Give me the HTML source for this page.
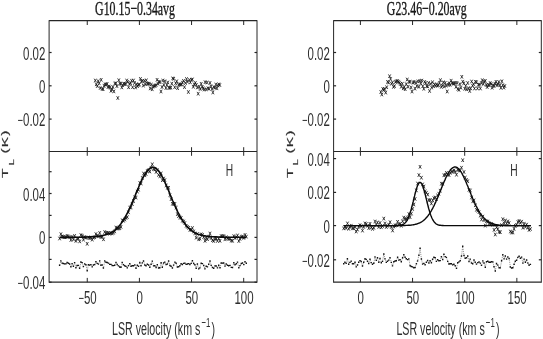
<!DOCTYPE html>
<html><head><meta charset="utf-8"><title>Spectra</title>
<style>
html,body{margin:0;padding:0;background:#fff;}
body{width:543px;height:339px;overflow:hidden;font-family:"Liberation Sans",sans-serif;}
svg{display:block;will-change:transform;}
</style></head><body>
<svg width="543" height="339" viewBox="0 0 543 339">
<rect width="543" height="339" fill="#fff"/>
<g stroke="#262626" fill="none">
<line x1="49.1" y1="20.7" x2="257.0" y2="20.7" stroke-width="1.2"/>
<line x1="49.1" y1="151.5" x2="257.0" y2="151.5" stroke-width="1.2"/>
<line x1="49.1" y1="282.2" x2="257.0" y2="282.2" stroke-width="1.2"/>
<line x1="49.1" y1="20.2" x2="49.1" y2="282.7" stroke-width="1.0"/>
<line x1="257.0" y1="20.2" x2="257.0" y2="282.7" stroke-width="1.0"/>
<line x1="87.25" y1="20.7" x2="87.25" y2="25.0" stroke-width="1.0"/>
<line x1="87.25" y1="147.2" x2="87.25" y2="155.8" stroke-width="1.0"/>
<line x1="87.25" y1="282.2" x2="87.25" y2="277.9" stroke-width="1.0"/>
<line x1="139.40" y1="20.7" x2="139.40" y2="25.0" stroke-width="1.0"/>
<line x1="139.40" y1="147.2" x2="139.40" y2="155.8" stroke-width="1.0"/>
<line x1="139.40" y1="282.2" x2="139.40" y2="277.9" stroke-width="1.0"/>
<line x1="191.55" y1="20.7" x2="191.55" y2="25.0" stroke-width="1.0"/>
<line x1="191.55" y1="147.2" x2="191.55" y2="155.8" stroke-width="1.0"/>
<line x1="191.55" y1="282.2" x2="191.55" y2="277.9" stroke-width="1.0"/>
<line x1="243.70" y1="20.7" x2="243.70" y2="25.0" stroke-width="1.0"/>
<line x1="243.70" y1="147.2" x2="243.70" y2="155.8" stroke-width="1.0"/>
<line x1="243.70" y1="282.2" x2="243.70" y2="277.9" stroke-width="1.0"/>
<line x1="49.1" y1="52.5" x2="51.6" y2="52.5" stroke-width="1.2"/>
<line x1="257.0" y1="52.5" x2="254.5" y2="52.5" stroke-width="1.2"/>
<line x1="49.1" y1="85.8" x2="51.6" y2="85.8" stroke-width="1.2"/>
<line x1="257.0" y1="85.8" x2="254.5" y2="85.8" stroke-width="1.2"/>
<line x1="49.1" y1="119.1" x2="51.6" y2="119.1" stroke-width="1.2"/>
<line x1="257.0" y1="119.1" x2="254.5" y2="119.1" stroke-width="1.2"/>
<line x1="49.1" y1="171.7" x2="51.6" y2="171.7" stroke-width="1.2"/>
<line x1="257.0" y1="171.7" x2="254.5" y2="171.7" stroke-width="1.2"/>
<line x1="49.1" y1="193.5" x2="51.6" y2="193.5" stroke-width="1.2"/>
<line x1="257.0" y1="193.5" x2="254.5" y2="193.5" stroke-width="1.2"/>
<line x1="49.1" y1="215.4" x2="51.6" y2="215.4" stroke-width="1.2"/>
<line x1="257.0" y1="215.4" x2="254.5" y2="215.4" stroke-width="1.2"/>
<line x1="49.1" y1="237.4" x2="51.6" y2="237.4" stroke-width="1.2"/>
<line x1="257.0" y1="237.4" x2="254.5" y2="237.4" stroke-width="1.2"/>
<line x1="49.1" y1="259.4" x2="51.6" y2="259.4" stroke-width="1.2"/>
<line x1="257.0" y1="259.4" x2="254.5" y2="259.4" stroke-width="1.2"/>
<line x1="49.1" y1="282.2" x2="51.6" y2="282.2" stroke-width="1.2"/>
<line x1="257.0" y1="282.2" x2="254.5" y2="282.2" stroke-width="1.2"/>
</g>
<text transform="translate(45.30,59.50) scale(0.64,1)" font-family="Liberation Sans" font-size="17.9" text-anchor="end" fill="#2e2e2e" >0.02</text>
<text transform="translate(45.30,92.80) scale(0.64,1)" font-family="Liberation Sans" font-size="17.9" text-anchor="end" fill="#2e2e2e" >0</text>
<text transform="translate(45.30,126.10) scale(0.64,1)" font-family="Liberation Sans" font-size="17.9" text-anchor="end" fill="#2e2e2e" ><tspan font-size="14.5" dy="-1.2">−</tspan><tspan dy="1.2">0.02</tspan></text>
<text transform="translate(45.30,200.50) scale(0.64,1)" font-family="Liberation Sans" font-size="17.9" text-anchor="end" fill="#2e2e2e" >0.04</text>
<text transform="translate(45.30,244.40) scale(0.64,1)" font-family="Liberation Sans" font-size="17.9" text-anchor="end" fill="#2e2e2e" >0</text>
<text transform="translate(45.30,289.20) scale(0.64,1)" font-family="Liberation Sans" font-size="17.9" text-anchor="end" fill="#2e2e2e" ><tspan font-size="14.5" dy="-1.2">−</tspan><tspan dy="1.2">0.04</tspan></text>
<text transform="translate(87.55,303.90) scale(0.64,1)" font-family="Liberation Sans" font-size="17.9" text-anchor="middle" fill="#2e2e2e" ><tspan font-size="14.5" dy="-1.2">−</tspan><tspan dy="1.2">50</tspan></text>
<text transform="translate(139.70,303.90) scale(0.64,1)" font-family="Liberation Sans" font-size="17.9" text-anchor="middle" fill="#2e2e2e" >0</text>
<text transform="translate(191.85,303.90) scale(0.64,1)" font-family="Liberation Sans" font-size="17.9" text-anchor="middle" fill="#2e2e2e" >50</text>
<text transform="translate(244.00,303.90) scale(0.64,1)" font-family="Liberation Sans" font-size="17.9" text-anchor="middle" fill="#2e2e2e" >100</text>
<text transform="translate(135.05,14.70) scale(0.6,1)" font-family="Liberation Serif" font-size="19.8" text-anchor="middle" fill="#161616" stroke="#161616" stroke-width="0.35">G10.15−0.34avg</text>
<text transform="translate(163.55,335.0) scale(0.58,1)" font-family="Liberation Sans" font-size="18.4" text-anchor="middle" fill="#2e2e2e">LSR velocity (km s<tspan dx="2" dy="-8" font-size="13.5">−1</tspan><tspan dx="2" dy="8">)</tspan></text>
<text transform="translate(8.10,178.00) scale(0.58,1) rotate(-90)" font-family="Liberation Sans" font-size="15.6" text-anchor="start" fill="#2e2e2e" stroke="#2e2e2e" stroke-width="0.3" letter-spacing="0">T</text>
<text transform="translate(13.70,165.60) scale(0.58,1) rotate(-90)" font-family="Liberation Sans" font-size="11.4" text-anchor="start" fill="#2e2e2e" stroke="#2e2e2e" stroke-width="0.3" letter-spacing="0">L</text>
<text transform="translate(8.10,153.60) scale(0.58,1) rotate(-90)" font-family="Liberation Sans" font-size="15.6" text-anchor="start" fill="#2e2e2e" stroke="#2e2e2e" stroke-width="0.3" letter-spacing="1.1">(K)</text>
<text transform="translate(229.50,175.80) scale(0.64,1)" font-family="Liberation Sans" font-size="16.0" text-anchor="middle" fill="#2e2e2e" >H</text>
<path d="M94.1 78.7L96.5 82.3M94.1 82.3L96.5 78.7M95.1 82.5L97.5 86.1M95.1 86.1L97.5 82.5M96.1 84.3L98.5 87.9M96.1 87.9L98.5 84.3M97.0 79.4L99.4 83.0M97.0 83.0L99.4 79.4M98.0 81.5L100.4 85.1M98.0 85.1L100.4 81.5M99.0 86.2L101.4 89.8M99.0 89.8L101.4 86.2M100.0 78.0L102.4 81.6M100.0 81.6L102.4 78.0M101.0 87.1L103.4 90.7M101.0 90.7L103.4 87.1M101.9 87.4L104.3 91.0M101.9 91.0L104.3 87.4M102.9 83.9L105.3 87.5M102.9 87.5L105.3 83.9M103.9 82.7L106.3 86.3M103.9 86.3L106.3 82.7M104.9 82.7L107.3 86.3M104.9 86.3L107.3 82.7M105.9 82.1L108.3 85.7M105.9 85.7L108.3 82.1M106.8 85.2L109.2 88.8M106.8 88.8L109.2 85.2M107.8 84.7L110.2 88.3M107.8 88.3L110.2 84.7M108.8 85.6L111.2 89.2M108.8 89.2L111.2 85.6M109.8 89.0L112.2 92.6M109.8 92.6L112.2 89.0M110.8 87.5L113.2 91.1M110.8 91.1L113.2 87.5M111.7 85.2L114.1 88.8M111.7 88.8L114.1 85.2M112.7 89.6L115.1 93.2M112.7 93.2L115.1 89.6M113.7 81.7L116.1 85.3M113.7 85.3L116.1 81.7M114.7 81.6L117.1 85.2M114.7 85.2L117.1 81.6M115.7 84.3L118.1 87.9M115.7 87.9L118.1 84.3M116.6 96.2L119.0 99.8M116.6 99.8L119.0 96.2M117.6 78.4L120.0 82.0M117.6 82.0L120.0 78.4M118.6 81.8L121.0 85.4M118.6 85.4L121.0 81.8M119.6 81.9L122.0 85.5M119.6 85.5L122.0 81.9M120.6 85.6L123.0 89.2M120.6 89.2L123.0 85.6M121.5 83.4L123.9 87.0M121.5 87.0L123.9 83.4M122.5 81.9L124.9 85.5M122.5 85.5L124.9 81.9M123.5 82.3L125.9 85.9M123.5 85.9L125.9 82.3M124.5 82.1L126.9 85.7M124.5 85.7L126.9 82.1M125.5 78.7L127.9 82.3M125.5 82.3L127.9 78.7M126.5 80.1L128.9 83.7M126.5 83.7L128.9 80.1M127.4 85.5L129.8 89.1M127.4 89.1L129.8 85.5M128.4 82.1L130.8 85.7M128.4 85.7L130.8 82.1M129.4 81.3L131.8 84.9M129.4 84.9L131.8 81.3M130.4 78.9L132.8 82.5M130.4 82.5L132.8 78.9M131.4 85.4L133.8 89.0M131.4 89.0L133.8 85.4M132.3 78.7L134.7 82.3M132.3 82.3L134.7 78.7M133.3 81.2L135.7 84.8M133.3 84.8L135.7 81.2M134.3 85.7L136.7 89.3M134.3 89.3L136.7 85.7M135.3 82.4L137.7 86.0M135.3 86.0L137.7 82.4M136.3 84.4L138.7 88.0M136.3 88.0L138.7 84.4M137.2 83.0L139.6 86.6M137.2 86.6L139.6 83.0M138.2 82.8L140.6 86.4M138.2 86.4L140.6 82.8M139.2 77.1L141.6 80.7M139.2 80.7L141.6 77.1M140.2 79.8L142.6 83.4M140.2 83.4L142.6 79.8M141.2 79.0L143.6 82.6M141.2 82.6L143.6 79.0M142.1 83.8L144.5 87.4M142.1 87.4L144.5 83.8M143.1 79.1L145.5 82.7M143.1 82.7L145.5 79.1M144.1 82.4L146.5 86.0M144.1 86.0L146.5 82.4M145.1 78.5L147.5 82.1M145.1 82.1L147.5 78.5M146.1 81.8L148.5 85.4M146.1 85.4L148.5 81.8M147.0 82.0L149.4 85.6M147.0 85.6L149.4 82.0M148.0 81.9L150.4 85.5M148.0 85.5L150.4 81.9M149.0 86.6L151.4 90.2M149.0 90.2L151.4 86.6M150.0 82.7L152.4 86.3M150.0 86.3L152.4 82.7M151.0 87.5L153.4 91.1M151.0 91.1L153.4 87.5M151.9 84.7L154.3 88.3M151.9 88.3L154.3 84.7M152.9 84.2L155.3 87.8M152.9 87.8L155.3 84.2M153.9 83.9L156.3 87.5M153.9 87.5L156.3 83.9M154.9 83.3L157.3 86.9M154.9 86.9L157.3 83.3M155.9 78.0L158.3 81.6M155.9 81.6L158.3 78.0M156.8 81.9L159.2 85.5M156.8 85.5L159.2 81.9M157.8 80.0L160.2 83.6M157.8 83.6L160.2 80.0M158.8 80.3L161.2 83.9M158.8 83.9L161.2 80.3M159.8 89.7L162.2 93.3M159.8 93.3L162.2 89.7M160.8 85.2L163.2 88.8M160.8 88.8L163.2 85.2M161.7 78.7L164.1 82.3M161.7 82.3L164.1 78.7M162.7 83.1L165.1 86.7M162.7 86.7L165.1 83.1M163.7 79.5L166.1 83.1M163.7 83.1L166.1 79.5M164.7 86.3L167.1 89.9M164.7 89.9L167.1 86.3M165.7 83.1L168.1 86.7M165.7 86.7L168.1 83.1M166.6 80.6L169.0 84.2M166.6 84.2L169.0 80.6M167.6 85.8L170.0 89.4M167.6 89.4L170.0 85.8M168.6 86.1L171.0 89.7M168.6 89.7L171.0 86.1M169.6 85.7L172.0 89.3M169.6 89.3L172.0 85.7M170.6 81.8L173.0 85.4M170.6 85.4L173.0 81.8M171.5 76.6L173.9 80.2M171.5 80.2L173.9 76.6M172.5 77.0L174.9 80.6M172.5 80.6L174.9 77.0M173.5 85.4L175.9 89.0M173.5 89.0L175.9 85.4M174.5 81.4L176.9 85.0M174.5 85.0L176.9 81.4M175.5 79.5L177.9 83.1M175.5 83.1L177.9 79.5M176.4 86.4L178.8 90.0M176.4 90.0L178.8 86.4M177.4 83.1L179.8 86.7M177.4 86.7L179.8 83.1M178.4 82.6L180.8 86.2M178.4 86.2L180.8 82.6M179.4 82.7L181.8 86.3M179.4 86.3L181.8 82.7M180.4 82.6L182.8 86.2M180.4 86.2L182.8 82.6M181.3 80.8L183.7 84.4M181.3 84.4L183.7 80.8M182.3 79.1L184.7 82.7M182.3 82.7L184.7 79.1M183.3 85.3L185.7 88.9M183.3 88.9L185.7 85.3M184.3 81.2L186.7 84.8M184.3 84.8L186.7 81.2M185.3 77.2L187.7 80.8M185.3 80.8L187.7 77.2M186.2 80.0L188.6 83.6M186.2 83.6L188.6 80.0M187.2 90.2L189.6 93.8M187.2 93.8L189.6 90.2M188.2 78.2L190.6 81.8M188.2 81.8L190.6 78.2M189.2 80.6L191.6 84.2M189.2 84.2L191.6 80.6M190.2 78.0L192.6 81.6M190.2 81.6L192.6 78.0M191.2 77.6L193.6 81.2M191.2 81.2L193.6 77.6M192.1 85.0L194.5 88.6M192.1 88.6L194.5 85.0M193.1 82.6L195.5 86.2M193.1 86.2L195.5 82.6M194.1 81.1L196.5 84.7M194.1 84.7L196.5 81.1M195.1 83.0L197.5 86.6M195.1 86.6L197.5 83.0M196.1 85.7L198.5 89.3M196.1 89.3L198.5 85.7M197.0 91.9L199.4 95.5M197.0 95.5L199.4 91.9M198.0 84.9L200.4 88.5M198.0 88.5L200.4 84.9M199.0 87.2L201.4 90.8M199.0 90.8L201.4 87.2M200.0 82.0L202.4 85.6M200.0 85.6L202.4 82.0M201.0 85.0L203.4 88.6M201.0 88.6L203.4 85.0M201.9 86.4L204.3 90.0M201.9 90.0L204.3 86.4M202.9 87.7L205.3 91.3M202.9 91.3L205.3 87.7M203.9 80.4L206.3 84.0M203.9 84.0L206.3 80.4M204.9 87.6L207.3 91.2M204.9 91.2L207.3 87.6M205.9 80.7L208.3 84.3M205.9 84.3L208.3 80.7M206.8 86.4L209.2 90.0M206.8 90.0L209.2 86.4M207.8 87.0L210.2 90.6M207.8 90.6L210.2 87.0M208.8 81.1L211.2 84.7M208.8 84.7L211.2 81.1M209.8 84.6L212.2 88.2M209.8 88.2L212.2 84.6M210.8 87.2L213.2 90.8M210.8 90.8L213.2 87.2M211.7 90.7L214.1 94.3M211.7 94.3L214.1 90.7M212.7 85.3L215.1 88.9M212.7 88.9L215.1 85.3M213.7 85.9L216.1 89.5M213.7 89.5L216.1 85.9M214.7 82.7L217.1 86.3M214.7 86.3L217.1 82.7M215.7 86.5L218.1 90.1M215.7 90.1L218.1 86.5M216.6 83.7L219.0 87.3M216.6 87.3L219.0 83.7M217.6 82.6L220.0 86.2M217.6 86.2L220.0 82.6M218.6 83.2L221.0 86.8M218.6 86.8L221.0 83.2" stroke="#141414" stroke-width="0.8" fill="none"/>
<path d="M58.4 236.7L60.8 240.3M58.4 240.3L60.8 236.7M59.7 232.4L62.1 236.0M59.7 236.0L62.1 232.4M60.9 234.6L63.3 238.2M60.9 238.2L63.3 234.6M62.2 235.0L64.6 238.6M62.2 238.6L64.6 235.0M63.4 235.4L65.8 239.0M63.4 239.0L65.8 235.4M64.7 235.4L67.1 239.0M64.7 239.0L67.1 235.4M65.9 234.0L68.3 237.6M65.9 237.6L68.3 234.0M67.2 234.7L69.6 238.3M67.2 238.3L69.6 234.7M68.4 235.5L70.8 239.1M68.4 239.1L70.8 235.5M69.7 238.2L72.1 241.8M69.7 241.8L72.1 238.2M70.9 235.1L73.3 238.7M70.9 238.7L73.3 235.1M72.2 237.6L74.6 241.2M72.2 241.2L74.6 237.6M73.4 234.1L75.8 237.7M73.4 237.7L75.8 234.1M74.7 239.1L77.1 242.7M74.7 242.7L77.1 239.1M76.0 236.9L78.4 240.5M76.0 240.5L78.4 236.9M77.2 236.8L79.6 240.4M77.2 240.4L79.6 236.8M78.5 239.6L80.9 243.2M78.5 243.2L80.9 239.6M79.7 233.3L82.1 236.9M79.7 236.9L82.1 233.3M81.0 233.9L83.4 237.5M81.0 237.5L83.4 233.9M82.2 237.9L84.6 241.5M82.2 241.5L84.6 237.9M83.5 235.2L85.9 238.8M83.5 238.8L85.9 235.2M84.7 235.9L87.1 239.5M84.7 239.5L87.1 235.9M86.0 242.0L88.4 245.6M86.0 245.6L88.4 242.0M87.2 235.8L89.6 239.4M87.2 239.4L89.6 235.8M88.5 236.2L90.9 239.8M88.5 239.8L90.9 236.2M89.7 235.7L92.1 239.3M89.7 239.3L92.1 235.7M91.0 237.8L93.4 241.4M91.0 241.4L93.4 237.8M92.2 235.9L94.6 239.5M92.2 239.5L94.6 235.9M93.5 235.4L95.9 239.0M93.5 239.0L95.9 235.4M94.7 232.3L97.1 235.9M94.7 235.9L97.1 232.3M96.0 233.9L98.4 237.5M96.0 237.5L98.4 233.9M97.3 234.5L99.7 238.1M97.3 238.1L99.7 234.5M98.5 231.1L100.9 234.7M98.5 234.7L100.9 231.1M99.8 235.3L102.2 238.9M99.8 238.9L102.2 235.3M101.0 234.7L103.4 238.3M101.0 238.3L103.4 234.7M102.3 237.5L104.7 241.1M102.3 241.1L104.7 237.5M103.5 230.2L105.9 233.8M103.5 233.8L105.9 230.2M104.8 231.2L107.2 234.8M104.8 234.8L107.2 231.2M106.0 231.0L108.4 234.6M106.0 234.6L108.4 231.0M107.3 231.1L109.7 234.7M107.3 234.7L109.7 231.1M108.5 231.9L110.9 235.5M108.5 235.5L110.9 231.9M109.8 231.2L112.2 234.8M109.8 234.8L112.2 231.2M111.0 231.6L113.4 235.2M111.0 235.2L113.4 231.6M112.3 230.9L114.7 234.5M112.3 234.5L114.7 230.9M113.5 229.6L115.9 233.2M113.5 233.2L115.9 229.6M114.8 225.7L117.2 229.3M114.8 229.3L117.2 225.7M116.0 226.7L118.4 230.3M116.0 230.3L118.4 226.7M117.3 226.7L119.7 230.3M117.3 230.3L119.7 226.7M118.6 226.4L121.0 230.0M118.6 230.0L121.0 226.4M119.8 225.0L122.2 228.6M119.8 228.6L122.2 225.0M121.1 218.5L123.5 222.1M121.1 222.1L123.5 218.5M122.3 218.9L124.7 222.5M122.3 222.5L124.7 218.9M123.6 217.7L126.0 221.3M123.6 221.3L126.0 217.7M124.8 216.2L127.2 219.8M124.8 219.8L127.2 216.2M126.1 215.3L128.5 218.9M126.1 218.9L128.5 215.3M127.3 210.5L129.7 214.1M127.3 214.1L129.7 210.5M128.6 205.8L131.0 209.4M128.6 209.4L131.0 205.8M129.8 205.6L132.2 209.2M129.8 209.2L132.2 205.6M131.1 202.3L133.5 205.9M131.1 205.9L133.5 202.3M132.3 199.2L134.7 202.8M132.3 202.8L134.7 199.2M133.6 195.4L136.0 199.0M133.6 199.0L136.0 195.4M134.8 195.8L137.2 199.4M134.8 199.4L137.2 195.8M136.1 189.8L138.5 193.4M136.1 193.4L138.5 189.8M137.3 187.9L139.7 191.5M137.3 191.5L139.7 187.9M138.6 181.1L141.0 184.7M138.6 184.7L141.0 181.1M139.9 181.7L142.3 185.3M139.9 185.3L142.3 181.7M141.1 176.1L143.5 179.7M141.1 179.7L143.5 176.1M142.4 171.7L144.8 175.3M142.4 175.3L144.8 171.7M143.6 173.5L146.0 177.1M143.6 177.1L146.0 173.5M144.9 172.3L147.3 175.9M144.9 175.9L147.3 172.3M146.1 169.2L148.5 172.8M146.1 172.8L148.5 169.2M147.4 168.5L149.8 172.1M147.4 172.1L149.8 168.5M148.6 169.7L151.0 173.3M148.6 173.3L151.0 169.7M149.9 166.0L152.3 169.6M149.9 169.6L152.3 166.0M151.1 162.5L153.5 166.1M151.1 166.1L153.5 162.5M152.4 167.3L154.8 170.9M152.4 170.9L154.8 167.3M153.6 167.6L156.0 171.2M153.6 171.2L156.0 167.6M154.9 170.1L157.3 173.7M154.9 173.7L157.3 170.1M156.1 168.4L158.5 172.0M156.1 172.0L158.5 168.4M157.4 173.1L159.8 176.7M157.4 176.7L159.8 173.1M158.7 174.6L161.1 178.2M158.7 178.2L161.1 174.6M159.9 171.6L162.3 175.2M159.9 175.2L162.3 171.6M161.2 178.4L163.6 182.0M161.2 182.0L163.6 178.4M162.4 176.7L164.8 180.3M162.4 180.3L164.8 176.7M163.7 178.3L166.1 181.9M163.7 181.9L166.1 178.3M164.9 183.7L167.3 187.3M164.9 187.3L167.3 183.7M166.2 186.0L168.6 189.6M166.2 189.6L168.6 186.0M167.4 186.0L169.8 189.6M167.4 189.6L169.8 186.0M168.7 193.5L171.1 197.1M168.7 197.1L171.1 193.5M169.9 197.4L172.3 201.0M169.9 201.0L172.3 197.4M171.2 202.0L173.6 205.6M171.2 205.6L173.6 202.0M172.4 202.1L174.8 205.7M172.4 205.7L174.8 202.1M173.7 202.0L176.1 205.6M173.7 205.6L176.1 202.0M174.9 205.8L177.3 209.4M174.9 209.4L177.3 205.8M176.2 212.3L178.6 215.9M176.2 215.9L178.6 212.3M177.4 214.4L179.8 218.0M177.4 218.0L179.8 214.4M178.7 215.8L181.1 219.4M178.7 219.4L181.1 215.8M180.0 216.1L182.4 219.7M180.0 219.7L182.4 216.1M181.2 218.9L183.6 222.5M181.2 222.5L183.6 218.9M182.5 219.7L184.9 223.3M182.5 223.3L184.9 219.7M183.7 221.2L186.1 224.8M183.7 224.8L186.1 221.2M185.0 224.0L187.4 227.6M185.0 227.6L187.4 224.0M186.2 225.0L188.6 228.6M186.2 228.6L188.6 225.0M187.5 226.0L189.9 229.6M187.5 229.6L189.9 226.0M188.7 228.0L191.1 231.6M188.7 231.6L191.1 228.0M190.0 228.0L192.4 231.6M190.0 231.6L192.4 228.0M191.2 226.2L193.6 229.8M191.2 229.8L193.6 226.2M192.5 229.7L194.9 233.3M192.5 233.3L194.9 229.7M193.7 231.6L196.1 235.2M193.7 235.2L196.1 231.6M195.0 235.9L197.4 239.5M195.0 239.5L197.4 235.9M196.2 232.1L198.6 235.7M196.2 235.7L198.6 232.1M197.5 237.5L199.9 241.1M197.5 241.1L199.9 237.5M198.7 236.8L201.1 240.4M198.7 240.4L201.1 236.8M200.0 232.5L202.4 236.1M200.0 236.1L202.4 232.5M201.3 233.2L203.7 236.8M201.3 236.8L203.7 233.2M202.5 235.4L204.9 239.0M202.5 239.0L204.9 235.4M203.8 239.0L206.2 242.6M203.8 242.6L206.2 239.0M205.0 236.5L207.4 240.1M205.0 240.1L207.4 236.5M206.3 237.4L208.7 241.0M206.3 241.0L208.7 237.4M207.5 234.9L209.9 238.5M207.5 238.5L209.9 234.9M208.8 231.7L211.2 235.3M208.8 235.3L211.2 231.7M210.0 236.2L212.4 239.8M210.0 239.8L212.4 236.2M211.3 238.4L213.7 242.0M211.3 242.0L213.7 238.4M212.5 239.2L214.9 242.8M212.5 242.8L214.9 239.2M213.8 236.9L216.2 240.5M213.8 240.5L216.2 236.9M215.0 237.1L217.4 240.7M215.0 240.7L217.4 237.1M216.3 239.1L218.7 242.7M216.3 242.7L218.7 239.1M217.5 236.4L219.9 240.0M217.5 240.0L219.9 236.4M218.8 239.0L221.2 242.6M218.8 242.6L221.2 239.0M220.0 234.3L222.4 237.9M220.0 237.9L222.4 234.3M221.3 234.4L223.7 238.0M221.3 238.0L223.7 234.4M222.6 234.3L225.0 237.9M222.6 237.9L225.0 234.3M223.8 237.5L226.2 241.1M223.8 241.1L226.2 237.5M225.1 235.4L227.5 239.0M225.1 239.0L227.5 235.4M226.3 236.6L228.7 240.2M226.3 240.2L228.7 236.6M227.6 237.1L230.0 240.7M227.6 240.7L230.0 237.1M228.8 236.9L231.2 240.5M228.8 240.5L231.2 236.9M230.1 238.8L232.5 242.4M230.1 242.4L232.5 238.8M231.3 239.0L233.7 242.6M231.3 242.6L233.7 239.0M232.6 234.3L235.0 237.9M232.6 237.9L235.0 234.3M233.8 236.2L236.2 239.8M233.8 239.8L236.2 236.2M235.1 235.3L237.5 238.9M235.1 238.9L237.5 235.3M236.3 233.6L238.7 237.2M236.3 237.2L238.7 233.6M237.6 239.2L240.0 242.8M237.6 242.8L240.0 239.2M238.8 237.1L241.2 240.7M238.8 240.7L241.2 237.1M240.1 235.1L242.5 238.7M240.1 238.7L242.5 235.1M241.3 234.6L243.7 238.2M241.3 238.2L243.7 234.6M242.6 236.1L245.0 239.7M242.6 239.7L245.0 236.1M243.9 233.1L246.3 236.7M243.9 236.7L246.3 233.1M245.1 234.8L247.5 238.4M245.1 238.4L247.5 234.8" stroke="#141414" stroke-width="0.8" fill="none"/>
<path d="M59.6 237.4L60.2 237.4L60.9 237.4L61.5 237.4L62.1 237.4L62.7 237.4L63.4 237.4L64.0 237.4L64.6 237.4L65.2 237.4L65.9 237.3L66.5 237.3L67.1 237.3L67.7 237.3L68.4 237.3L69.0 237.3L69.6 237.3L70.2 237.3L70.8 237.3L71.5 237.3L72.1 237.3L72.7 237.3L73.3 237.3L74.0 237.3L74.6 237.3L75.2 237.3L75.8 237.3L76.5 237.3L77.1 237.2L77.7 237.2L78.3 237.2L79.0 237.2L79.6 237.2L80.2 237.2L80.8 237.2L81.5 237.2L82.1 237.2L82.7 237.1L83.3 237.1L84.0 237.1L84.6 237.1L85.2 237.1L85.8 237.1L86.5 237.0L87.1 237.0L87.7 237.0L88.3 237.0L89.0 236.9L89.6 236.9L90.2 236.9L90.8 236.9L91.5 236.8L92.1 236.8L92.7 236.7L93.3 236.7L94.0 236.7L94.6 236.6L95.2 236.6L95.8 236.5L96.5 236.5L97.1 236.4L97.7 236.3L98.3 236.2L98.9 236.2L99.6 236.1L100.2 236.0L100.8 235.9L101.4 235.8L102.1 235.7L102.7 235.5L103.3 235.4L103.9 235.3L104.6 235.1L105.2 234.9L105.8 234.8L106.4 234.6L107.1 234.4L107.7 234.1L108.3 233.9L108.9 233.6L109.6 233.4L110.2 233.1L110.8 232.7L111.4 232.4L112.1 232.0L112.7 231.7L113.3 231.2L113.9 230.8L114.6 230.3L115.2 229.8L115.8 229.3L116.4 228.8L117.1 228.2L117.7 227.5L118.3 226.9L118.9 226.2L119.6 225.4L120.2 224.7L120.8 223.9L121.4 223.0L122.1 222.1L122.7 221.2L123.3 220.2L123.9 219.2L124.5 218.2L125.2 217.1L125.8 216.0L126.4 214.8L127.0 213.6L127.7 212.4L128.3 211.1L128.9 209.8L129.5 208.5L130.2 207.1L130.8 205.8L131.4 204.3L132.0 202.9L132.7 201.4L133.3 200.0L133.9 198.5L134.5 197.0L135.2 195.5L135.8 193.9L136.4 192.4L137.0 190.9L137.7 189.4L138.3 188.0L138.9 186.5L139.5 185.0L140.2 183.6L140.8 182.2L141.4 180.9L142.0 179.6L142.7 178.3L143.3 177.1L143.9 175.9L144.5 174.8L145.2 173.8L145.8 172.8L146.4 171.9L147.0 171.1L147.7 170.3L148.3 169.6L148.9 169.0L149.5 168.5L150.1 168.1L150.8 167.7L151.4 167.5L152.0 167.3L152.6 167.2L153.3 167.2L153.9 167.3L154.5 167.5L155.1 167.8L155.8 168.2L156.4 168.7L157.0 169.2L157.6 169.8L158.3 170.5L158.9 171.3L159.5 172.2L160.1 173.1L160.8 174.1L161.4 175.2L162.0 176.3L162.6 177.5L163.3 178.7L163.9 180.0L164.5 181.3L165.1 182.7L165.8 184.1L166.4 185.5L167.0 187.0L167.6 188.4L168.3 189.9L168.9 191.4L169.5 192.9L170.1 194.5L170.8 196.0L171.4 197.5L172.0 199.0L172.6 200.5L173.3 201.9L173.9 203.4L174.5 204.8L175.1 206.2L175.7 207.6L176.4 209.0L177.0 210.3L177.6 211.6L178.2 212.8L178.9 214.0L179.5 215.2L180.1 216.4L180.7 217.5L181.4 218.6L182.0 219.6L182.6 220.6L183.2 221.5L183.9 222.4L184.5 223.3L185.1 224.1L185.7 224.9L186.4 225.7L187.0 226.4L187.6 227.1L188.2 227.7L188.9 228.4L189.5 228.9L190.1 229.5L190.7 230.0L191.4 230.5L192.0 231.0L192.6 231.4L193.2 231.8L193.9 232.2L194.5 232.5L195.1 232.9L195.7 233.2L196.4 233.5L197.0 233.7L197.6 234.0L198.2 234.2L198.9 234.4L199.5 234.6L200.1 234.8L200.7 235.0L201.4 235.2L202.0 235.3L202.6 235.5L203.2 235.6L203.8 235.7L204.5 235.8L205.1 235.9L205.7 236.0L206.3 236.1L207.0 236.2L207.6 236.3L208.2 236.3L208.8 236.4L209.5 236.5L210.1 236.5L210.7 236.6L211.3 236.6L212.0 236.7L212.6 236.7L213.2 236.8L213.8 236.8L214.5 236.8L215.1 236.9L215.7 236.9L216.3 236.9L217.0 237.0L217.6 237.0L218.2 237.0L218.8 237.0L219.5 237.0L220.1 237.1L220.7 237.1L221.3 237.1L222.0 237.1L222.6 237.1L223.2 237.1L223.8 237.2L224.5 237.2L225.1 237.2L225.7 237.2L226.3 237.2L227.0 237.2L227.6 237.2L228.2 237.2L228.8 237.2L229.4 237.3L230.1 237.3L230.7 237.3L231.3 237.3L231.9 237.3L232.6 237.3L233.2 237.3L233.8 237.3L234.4 237.3L235.1 237.3L235.7 237.3L236.3 237.3L236.9 237.3L237.6 237.3L238.2 237.3L238.8 237.3L239.4 237.3L240.1 237.3L240.7 237.4L241.3 237.4L241.9 237.4L242.6 237.4L243.2 237.4L243.8 237.4L244.4 237.4L245.1 237.4L245.7 237.4L246.3 237.4" stroke="#0a0a0a" stroke-width="1.6" fill="none" stroke-linejoin="round"/>
<path d="M59.6 265.2L60.9 260.9L62.1 263.1L63.4 263.5L64.6 263.9L65.9 263.9L67.1 262.5L68.4 263.2L69.6 264.0L70.9 266.7L72.1 263.6L73.4 266.2L74.6 262.6L75.9 267.7L77.2 265.5L78.4 265.4L79.7 268.3L80.9 262.0L82.2 262.6L83.4 266.6L84.7 263.9L85.9 264.7L87.2 270.8L88.4 264.7L89.7 265.1L90.9 264.6L92.2 266.9L93.4 265.0L94.7 264.6L95.9 261.7L97.2 263.4L98.5 264.1L99.7 260.9L101.0 265.2L102.2 264.9L103.5 268.0L104.7 260.9L106.0 262.3L107.2 262.5L108.5 263.1L109.7 264.4L111.0 264.4L112.2 265.5L113.5 265.6L114.7 265.3L116.0 262.4L117.2 264.5L118.5 265.9L119.8 267.0L121.0 267.2L122.3 262.5L123.5 264.8L124.8 265.7L126.0 266.4L127.3 267.9L128.5 265.6L129.8 263.6L131.0 266.2L132.3 265.8L133.5 265.7L134.8 264.9L136.0 268.3L137.3 265.3L138.5 266.4L139.8 262.5L141.1 265.8L142.3 262.9L143.6 261.0L144.8 265.0L146.1 265.8L147.3 264.3L148.6 265.0L149.8 267.2L151.1 264.3L152.3 261.1L153.6 265.9L154.8 265.8L156.1 267.5L157.3 264.7L158.6 268.0L159.9 267.7L161.1 262.7L162.4 267.2L163.6 263.0L164.9 262.1L166.1 264.6L167.4 264.0L168.6 261.0L169.9 265.5L171.1 266.3L172.4 268.0L173.6 265.1L174.9 262.1L176.1 263.2L177.4 267.0L178.6 266.7L179.9 265.7L181.2 263.7L182.4 264.5L183.7 263.4L184.9 263.1L186.2 264.4L187.4 264.0L188.7 263.6L189.9 264.5L191.2 263.4L192.4 260.7L193.7 263.5L194.9 264.7L196.2 268.3L197.4 264.0L198.7 268.9L199.9 267.9L201.2 263.2L202.5 263.6L203.7 265.5L205.0 268.9L206.2 266.2L207.5 266.9L208.7 264.3L210.0 261.0L211.2 265.4L212.5 267.5L213.7 268.3L215.0 265.9L216.2 266.0L217.5 267.9L218.7 265.2L220.0 267.8L221.2 263.0L222.5 263.1L223.8 263.0L225.0 266.1L226.3 264.0L227.5 265.2L228.8 265.7L230.0 265.4L231.3 267.4L232.5 267.6L233.8 262.8L235.0 264.7L236.3 263.8L237.5 262.1L238.8 267.7L240.0 265.6L241.3 263.5L242.5 263.0L243.8 264.6L245.1 261.6L246.3 263.2" stroke="#444" stroke-width="0.55" fill="none" stroke-dasharray="1.2 1"/>
<path d="M58.9 265.2h1.4M60.1 260.9h1.4M61.4 263.1h1.4M62.6 263.5h1.4M63.9 263.9h1.4M65.2 263.9h1.4M66.4 262.5h1.4M67.7 263.2h1.4M68.9 264.0h1.4M70.2 266.7h1.4M71.4 263.6h1.4M72.7 266.2h1.4M73.9 262.6h1.4M75.2 267.7h1.4M76.4 265.5h1.4M77.7 265.4h1.4M78.9 268.3h1.4M80.2 262.0h1.4M81.4 262.6h1.4M82.7 266.6h1.4M84.0 263.9h1.4M85.2 264.7h1.4M86.5 270.8h1.4M87.7 264.7h1.4M89.0 265.1h1.4M90.2 264.6h1.4M91.5 266.9h1.4M92.7 265.0h1.4M94.0 264.6h1.4M95.2 261.7h1.4M96.5 263.4h1.4M97.7 264.1h1.4M99.0 260.9h1.4M100.2 265.2h1.4M101.5 264.9h1.4M102.7 268.0h1.4M104.0 260.9h1.4M105.3 262.3h1.4M106.5 262.5h1.4M107.8 263.1h1.4M109.0 264.4h1.4M110.3 264.4h1.4M111.5 265.5h1.4M112.8 265.6h1.4M114.0 265.3h1.4M115.3 262.4h1.4M116.5 264.5h1.4M117.8 265.9h1.4M119.0 267.0h1.4M120.3 267.2h1.4M121.5 262.5h1.4M122.8 264.8h1.4M124.0 265.7h1.4M125.3 266.4h1.4M126.6 267.9h1.4M127.8 265.6h1.4M129.1 263.6h1.4M130.3 266.2h1.4M131.6 265.8h1.4M132.8 265.7h1.4M134.1 264.9h1.4M135.3 268.3h1.4M136.6 265.3h1.4M137.8 266.4h1.4M139.1 262.5h1.4M140.3 265.8h1.4M141.6 262.9h1.4M142.8 261.0h1.4M144.1 265.0h1.4M145.3 265.8h1.4M146.6 264.3h1.4M147.9 265.0h1.4M149.1 267.2h1.4M150.4 264.3h1.4M151.6 261.1h1.4M152.9 265.9h1.4M154.1 265.8h1.4M155.4 267.5h1.4M156.6 264.7h1.4M157.9 268.0h1.4M159.1 267.7h1.4M160.4 262.7h1.4M161.6 267.2h1.4M162.9 263.0h1.4M164.1 262.1h1.4M165.4 264.6h1.4M166.6 264.0h1.4M167.9 261.0h1.4M169.2 265.5h1.4M170.4 266.3h1.4M171.7 268.0h1.4M172.9 265.1h1.4M174.2 262.1h1.4M175.4 263.2h1.4M176.7 267.0h1.4M177.9 266.7h1.4M179.2 265.7h1.4M180.4 263.7h1.4M181.7 264.5h1.4M182.9 263.4h1.4M184.2 263.1h1.4M185.4 264.4h1.4M186.7 264.0h1.4M187.9 263.6h1.4M189.2 264.5h1.4M190.5 263.4h1.4M191.7 260.7h1.4M193.0 263.5h1.4M194.2 264.7h1.4M195.5 268.3h1.4M196.7 264.0h1.4M198.0 268.9h1.4M199.2 267.9h1.4M200.5 263.2h1.4M201.7 263.6h1.4M203.0 265.5h1.4M204.2 268.9h1.4M205.5 266.2h1.4M206.7 266.9h1.4M208.0 264.3h1.4M209.3 261.0h1.4M210.5 265.4h1.4M211.8 267.5h1.4M213.0 268.3h1.4M214.3 265.9h1.4M215.5 266.0h1.4M216.8 267.9h1.4M218.0 265.2h1.4M219.3 267.8h1.4M220.5 263.0h1.4M221.8 263.1h1.4M223.0 263.0h1.4M224.3 266.1h1.4M225.5 264.0h1.4M226.8 265.2h1.4M228.0 265.7h1.4M229.3 265.4h1.4M230.6 267.4h1.4M231.8 267.6h1.4M233.1 262.8h1.4M234.3 264.7h1.4M235.6 263.8h1.4M236.8 262.1h1.4M238.1 267.7h1.4M239.3 265.6h1.4M240.6 263.5h1.4M241.8 263.0h1.4M243.1 264.6h1.4M244.3 261.6h1.4M245.6 263.2h1.4" stroke="#111" stroke-width="1.44" fill="none"/>
<g stroke="#262626" fill="none">
<line x1="333.6" y1="20.7" x2="541.3" y2="20.7" stroke-width="1.2"/>
<line x1="333.6" y1="151.5" x2="541.3" y2="151.5" stroke-width="1.2"/>
<line x1="333.6" y1="282.2" x2="541.3" y2="282.2" stroke-width="1.2"/>
<line x1="333.6" y1="20.2" x2="333.6" y2="282.7" stroke-width="1.0"/>
<line x1="541.3" y1="20.2" x2="541.3" y2="282.7" stroke-width="1.0"/>
<line x1="360.40" y1="20.7" x2="360.40" y2="25.0" stroke-width="1.0"/>
<line x1="360.40" y1="147.2" x2="360.40" y2="155.8" stroke-width="1.0"/>
<line x1="360.40" y1="282.2" x2="360.40" y2="277.9" stroke-width="1.0"/>
<line x1="412.55" y1="20.7" x2="412.55" y2="25.0" stroke-width="1.0"/>
<line x1="412.55" y1="147.2" x2="412.55" y2="155.8" stroke-width="1.0"/>
<line x1="412.55" y1="282.2" x2="412.55" y2="277.9" stroke-width="1.0"/>
<line x1="464.70" y1="20.7" x2="464.70" y2="25.0" stroke-width="1.0"/>
<line x1="464.70" y1="147.2" x2="464.70" y2="155.8" stroke-width="1.0"/>
<line x1="464.70" y1="282.2" x2="464.70" y2="277.9" stroke-width="1.0"/>
<line x1="516.85" y1="20.7" x2="516.85" y2="25.0" stroke-width="1.0"/>
<line x1="516.85" y1="147.2" x2="516.85" y2="155.8" stroke-width="1.0"/>
<line x1="516.85" y1="282.2" x2="516.85" y2="277.9" stroke-width="1.0"/>
<line x1="333.6" y1="52.5" x2="336.1" y2="52.5" stroke-width="1.2"/>
<line x1="541.3" y1="52.5" x2="538.8" y2="52.5" stroke-width="1.2"/>
<line x1="333.6" y1="85.8" x2="336.1" y2="85.8" stroke-width="1.2"/>
<line x1="541.3" y1="85.8" x2="538.8" y2="85.8" stroke-width="1.2"/>
<line x1="333.6" y1="119.1" x2="336.1" y2="119.1" stroke-width="1.2"/>
<line x1="541.3" y1="119.1" x2="538.8" y2="119.1" stroke-width="1.2"/>
<line x1="333.6" y1="158.6" x2="336.1" y2="158.6" stroke-width="1.2"/>
<line x1="541.3" y1="158.6" x2="538.8" y2="158.6" stroke-width="1.2"/>
<line x1="333.6" y1="192.4" x2="336.1" y2="192.4" stroke-width="1.2"/>
<line x1="541.3" y1="192.4" x2="538.8" y2="192.4" stroke-width="1.2"/>
<line x1="333.6" y1="225.6" x2="336.1" y2="225.6" stroke-width="1.2"/>
<line x1="541.3" y1="225.6" x2="538.8" y2="225.6" stroke-width="1.2"/>
<line x1="333.6" y1="259.8" x2="336.1" y2="259.8" stroke-width="1.2"/>
<line x1="541.3" y1="259.8" x2="538.8" y2="259.8" stroke-width="1.2"/>
</g>
<text transform="translate(329.80,59.50) scale(0.64,1)" font-family="Liberation Sans" font-size="17.9" text-anchor="end" fill="#2e2e2e" >0.02</text>
<text transform="translate(329.80,92.80) scale(0.64,1)" font-family="Liberation Sans" font-size="17.9" text-anchor="end" fill="#2e2e2e" >0</text>
<text transform="translate(329.80,126.10) scale(0.64,1)" font-family="Liberation Sans" font-size="17.9" text-anchor="end" fill="#2e2e2e" ><tspan font-size="14.5" dy="-1.2">−</tspan><tspan dy="1.2">0.02</tspan></text>
<text transform="translate(329.80,165.60) scale(0.64,1)" font-family="Liberation Sans" font-size="17.9" text-anchor="end" fill="#2e2e2e" >0.04</text>
<text transform="translate(329.80,199.40) scale(0.64,1)" font-family="Liberation Sans" font-size="17.9" text-anchor="end" fill="#2e2e2e" >0.02</text>
<text transform="translate(329.80,232.60) scale(0.64,1)" font-family="Liberation Sans" font-size="17.9" text-anchor="end" fill="#2e2e2e" >0</text>
<text transform="translate(329.80,266.80) scale(0.64,1)" font-family="Liberation Sans" font-size="17.9" text-anchor="end" fill="#2e2e2e" ><tspan font-size="14.5" dy="-1.2">−</tspan><tspan dy="1.2">0.02</tspan></text>
<text transform="translate(360.70,303.90) scale(0.64,1)" font-family="Liberation Sans" font-size="17.9" text-anchor="middle" fill="#2e2e2e" >0</text>
<text transform="translate(412.85,303.90) scale(0.64,1)" font-family="Liberation Sans" font-size="17.9" text-anchor="middle" fill="#2e2e2e" >50</text>
<text transform="translate(465.00,303.90) scale(0.64,1)" font-family="Liberation Sans" font-size="17.9" text-anchor="middle" fill="#2e2e2e" >100</text>
<text transform="translate(517.15,303.90) scale(0.64,1)" font-family="Liberation Sans" font-size="17.9" text-anchor="middle" fill="#2e2e2e" >150</text>
<text transform="translate(426.75,14.70) scale(0.6,1)" font-family="Liberation Serif" font-size="19.8" text-anchor="middle" fill="#161616" stroke="#161616" stroke-width="0.35">G23.46−0.20avg</text>
<text transform="translate(447.95,335.0) scale(0.58,1)" font-family="Liberation Sans" font-size="18.4" text-anchor="middle" fill="#2e2e2e">LSR velocity (km s<tspan dx="2" dy="-8" font-size="13.5">−1</tspan><tspan dx="2" dy="8">)</tspan></text>
<text transform="translate(292.50,178.00) scale(0.58,1) rotate(-90)" font-family="Liberation Sans" font-size="15.6" text-anchor="start" fill="#2e2e2e" stroke="#2e2e2e" stroke-width="0.3" letter-spacing="0">T</text>
<text transform="translate(298.10,165.60) scale(0.58,1) rotate(-90)" font-family="Liberation Sans" font-size="11.4" text-anchor="start" fill="#2e2e2e" stroke="#2e2e2e" stroke-width="0.3" letter-spacing="0">L</text>
<text transform="translate(292.50,153.60) scale(0.58,1) rotate(-90)" font-family="Liberation Sans" font-size="15.6" text-anchor="start" fill="#2e2e2e" stroke="#2e2e2e" stroke-width="0.3" letter-spacing="1.1">(K)</text>
<text transform="translate(514.00,175.80) scale(0.64,1)" font-family="Liberation Sans" font-size="16.0" text-anchor="middle" fill="#2e2e2e" >H</text>
<path d="M379.6 90.2L382.0 93.8M379.6 93.8L382.0 90.2M380.6 92.7L383.0 96.3M380.6 96.3L383.0 92.7M381.6 87.1L384.0 90.7M381.6 90.7L384.0 87.1M382.5 88.2L384.9 91.8M382.5 91.8L384.9 88.2M383.5 87.2L385.9 90.8M383.5 90.8L385.9 87.2M384.5 90.8L386.9 94.4M384.5 94.4L386.9 90.8M385.5 85.4L387.9 89.0M385.5 89.0L387.9 85.4M386.4 80.1L388.8 83.7M386.4 83.7L388.8 80.1M387.4 80.7L389.8 84.3M387.4 84.3L389.8 80.7M388.4 74.4L390.8 78.0M388.4 78.0L390.8 74.4M389.4 77.2L391.8 80.8M389.4 80.8L391.8 77.2M390.3 81.9L392.7 85.5M390.3 85.5L392.7 81.9M391.3 80.7L393.7 84.3M391.3 84.3L393.7 80.7M392.3 85.1L394.7 88.7M392.3 88.7L394.7 85.1M393.3 84.3L395.7 87.9M393.3 87.9L395.7 84.3M394.2 80.2L396.6 83.8M394.2 83.8L396.6 80.2M395.2 79.5L397.6 83.1M395.2 83.1L397.6 79.5M396.2 79.2L398.6 82.8M396.2 82.8L398.6 79.2M397.2 79.9L399.6 83.5M397.2 83.5L399.6 79.9M398.2 80.8L400.6 84.4M398.2 84.4L400.6 80.8M399.1 82.2L401.5 85.8M399.1 85.8L401.5 82.2M400.1 84.9L402.5 88.5M400.1 88.5L402.5 84.9M401.1 81.9L403.5 85.5M401.1 85.5L403.5 81.9M402.1 86.5L404.5 90.1M402.1 90.1L404.5 86.5M403.0 85.3L405.4 88.9M403.0 88.9L405.4 85.3M404.0 87.4L406.4 91.0M404.0 91.0L406.4 87.4M405.0 82.3L407.4 85.9M405.0 85.9L407.4 82.3M406.0 77.7L408.4 81.3M406.0 81.3L408.4 77.7M406.9 84.9L409.3 88.5M406.9 88.5L409.3 84.9M407.9 80.2L410.3 83.8M407.9 83.8L410.3 80.2M408.9 79.8L411.3 83.4M408.9 83.4L411.3 79.8M409.9 85.7L412.3 89.3M409.9 89.3L412.3 85.7M410.8 89.7L413.2 93.3M410.8 93.3L413.2 89.7M411.8 80.9L414.2 84.5M411.8 84.5L414.2 80.9M412.8 80.0L415.2 83.6M412.8 83.6L415.2 80.0M413.8 86.8L416.2 90.4M413.8 90.4L416.2 86.8M414.7 80.9L417.1 84.5M414.7 84.5L417.1 80.9M415.7 84.3L418.1 87.9M415.7 87.9L418.1 84.3M416.7 79.6L419.1 83.2M416.7 83.2L419.1 79.6M417.7 85.0L420.1 88.6M417.7 88.6L420.1 85.0M418.7 79.1L421.1 82.7M418.7 82.7L421.1 79.1M419.6 81.7L422.0 85.3M419.6 85.3L422.0 81.7M420.6 78.8L423.0 82.4M420.6 82.4L423.0 78.8M421.6 84.4L424.0 88.0M421.6 88.0L424.0 84.4M422.6 87.0L425.0 90.6M422.6 90.6L425.0 87.0M423.5 80.1L425.9 83.7M423.5 83.7L425.9 80.1M424.5 81.3L426.9 84.9M424.5 84.9L426.9 81.3M425.5 84.4L427.9 88.0M425.5 88.0L427.9 84.4M426.5 84.6L428.9 88.2M426.5 88.2L428.9 84.6M427.4 81.1L429.8 84.7M427.4 84.7L429.8 81.1M428.4 89.2L430.8 92.8M428.4 92.8L430.8 89.2M429.4 82.1L431.8 85.7M429.4 85.7L431.8 82.1M430.4 85.7L432.8 89.3M430.4 89.3L432.8 85.7M431.3 80.4L433.7 84.0M431.3 84.0L433.7 80.4M432.3 84.5L434.7 88.1M432.3 88.1L434.7 84.5M433.3 82.6L435.7 86.2M433.3 86.2L435.7 82.6M434.3 83.9L436.7 87.5M434.3 87.5L436.7 83.9M435.3 82.6L437.7 86.2M435.3 86.2L437.7 82.6M436.2 83.8L438.6 87.4M436.2 87.4L438.6 83.8M437.2 83.4L439.6 87.0M437.2 87.0L439.6 83.4M438.2 81.2L440.6 84.8M438.2 84.8L440.6 81.2M439.2 78.3L441.6 81.9M439.2 81.9L441.6 78.3M440.1 85.1L442.5 88.7M440.1 88.7L442.5 85.1M441.1 83.8L443.5 87.4M441.1 87.4L443.5 83.8M442.1 80.5L444.5 84.1M442.1 84.1L444.5 80.5M443.1 84.7L445.5 88.3M443.1 88.3L445.5 84.7M444.0 81.0L446.4 84.6M444.0 84.6L446.4 81.0M445.0 83.8L447.4 87.4M445.0 87.4L447.4 83.8M446.0 89.7L448.4 93.3M446.0 93.3L448.4 89.7M447.0 83.0L449.4 86.6M447.0 86.6L449.4 83.0M447.9 81.4L450.3 85.0M447.9 85.0L450.3 81.4M448.9 83.1L451.3 86.7M448.9 86.7L451.3 83.1M449.9 78.9L452.3 82.5M449.9 82.5L452.3 78.9M450.9 81.1L453.3 84.7M450.9 84.7L453.3 81.1M451.9 81.7L454.3 85.3M451.9 85.3L454.3 81.7M452.8 81.9L455.2 85.5M452.8 85.5L455.2 81.9M453.8 81.0L456.2 84.6M453.8 84.6L456.2 81.0M454.8 85.0L457.2 88.6M454.8 88.6L457.2 85.0M455.8 81.0L458.2 84.6M455.8 84.6L458.2 81.0M456.7 87.1L459.1 90.7M456.7 90.7L459.1 87.1M457.7 88.0L460.1 91.6M457.7 91.6L460.1 88.0M458.7 82.4L461.1 86.0M458.7 86.0L461.1 82.4M459.7 85.9L462.1 89.5M459.7 89.5L462.1 85.9M460.6 75.0L463.0 78.6M460.6 78.6L463.0 75.0M461.6 79.9L464.0 83.5M461.6 83.5L464.0 79.9M462.6 81.5L465.0 85.1M462.6 85.1L465.0 81.5M463.6 87.0L466.0 90.6M463.6 90.6L466.0 87.0M464.5 84.1L466.9 87.7M464.5 87.7L466.9 84.1M465.5 87.5L467.9 91.1M465.5 91.1L467.9 87.5M466.5 81.2L468.9 84.8M466.5 84.8L468.9 81.2M467.5 86.5L469.9 90.1M467.5 90.1L469.9 86.5M468.5 89.2L470.9 92.8M468.5 92.8L470.9 89.2M469.4 86.5L471.8 90.1M469.4 90.1L471.8 86.5M470.4 79.7L472.8 83.3M470.4 83.3L472.8 79.7M471.4 83.9L473.8 87.5M471.4 87.5L473.8 83.9M472.4 82.3L474.8 85.9M472.4 85.9L474.8 82.3M473.3 86.7L475.7 90.3M473.3 90.3L475.7 86.7M474.3 80.0L476.7 83.6M474.3 83.6L476.7 80.0M475.3 80.4L477.7 84.0M475.3 84.0L477.7 80.4M476.3 86.6L478.7 90.2M476.3 90.2L478.7 86.6M477.2 82.9L479.6 86.5M477.2 86.5L479.6 82.9M478.2 82.8L480.6 86.4M478.2 86.4L480.6 82.8M479.2 86.7L481.6 90.3M479.2 90.3L481.6 86.7M480.2 81.3L482.6 84.9M480.2 84.9L482.6 81.3M481.1 78.4L483.5 82.0M481.1 82.0L483.5 78.4M482.1 82.2L484.5 85.8M482.1 85.8L484.5 82.2M483.1 79.7L485.5 83.3M483.1 83.3L485.5 79.7M484.1 79.1L486.5 82.7M484.1 82.7L486.5 79.1M485.0 83.2L487.4 86.8M485.0 86.8L487.4 83.2M486.0 85.2L488.4 88.8M486.0 88.8L488.4 85.2M487.0 83.0L489.4 86.6M487.0 86.6L489.4 83.0M488.0 83.5L490.4 87.1M488.0 87.1L490.4 83.5M489.0 81.2L491.4 84.8M489.0 84.8L491.4 81.2M489.9 82.2L492.3 85.8M489.9 85.8L492.3 82.2M490.9 85.9L493.3 89.5M490.9 89.5L493.3 85.9M491.9 83.4L494.3 87.0M491.9 87.0L494.3 83.4M492.9 84.4L495.3 88.0M492.9 88.0L495.3 84.4M493.8 81.9L496.2 85.5M493.8 85.5L496.2 81.9M494.8 80.0L497.2 83.6M494.8 83.6L497.2 80.0M495.8 83.4L498.2 87.0M495.8 87.0L498.2 83.4M496.8 82.3L499.2 85.9M496.8 85.9L499.2 82.3M497.7 80.2L500.1 83.8M497.7 83.8L500.1 80.2M498.7 83.5L501.1 87.1M498.7 87.1L501.1 83.5M499.7 86.0L502.1 89.6M499.7 89.6L502.1 86.0M500.7 79.5L503.1 83.1M500.7 83.1L503.1 79.5M501.6 83.4L504.0 87.0M501.6 87.0L504.0 83.4M502.6 85.8L505.0 89.4M502.6 89.4L505.0 85.8M503.6 84.2L506.0 87.8M503.6 87.8L506.0 84.2" stroke="#141414" stroke-width="0.8" fill="none"/>
<path d="M342.5 226.6L344.9 230.2M342.5 230.2L344.9 226.6M343.8 225.1L346.2 228.7M343.8 228.7L346.2 225.1M345.0 226.2L347.4 229.8M345.0 229.8L347.4 226.2M346.3 221.6L348.7 225.2M346.3 225.2L348.7 221.6M347.5 227.0L349.9 230.6M347.5 230.6L349.9 227.0M348.8 225.2L351.2 228.8M348.8 228.8L351.2 225.2M350.0 223.9L352.4 227.5M350.0 227.5L352.4 223.9M351.3 226.5L353.7 230.1M351.3 230.1L353.7 226.5M352.5 226.5L354.9 230.1M352.5 230.1L354.9 226.5M353.8 225.1L356.2 228.7M353.8 228.7L356.2 225.1M355.0 229.7L357.4 233.3M355.0 233.3L357.4 229.7M356.3 227.8L358.7 231.4M356.3 231.4L358.7 227.8M357.5 225.0L359.9 228.6M357.5 228.6L359.9 225.0M358.8 223.4L361.2 227.0M358.8 227.0L361.2 223.4M360.0 224.3L362.4 227.9M360.0 227.9L362.4 224.3M361.3 228.8L363.7 232.4M361.3 232.4L363.7 228.8M362.5 225.1L364.9 228.7M362.5 228.7L364.9 225.1M363.8 221.6L366.2 225.2M363.8 225.2L366.2 221.6M365.1 222.2L367.5 225.8M365.1 225.8L367.5 222.2M366.3 224.0L368.7 227.6M366.3 227.6L368.7 224.0M367.6 226.3L370.0 229.9M367.6 229.9L370.0 226.3M368.8 222.0L371.2 225.6M368.8 225.6L371.2 222.0M370.1 225.4L372.5 229.0M370.1 229.0L372.5 225.4M371.3 227.1L373.7 230.7M371.3 230.7L373.7 227.1M372.6 226.0L375.0 229.6M372.6 229.6L375.0 226.0M373.8 219.7L376.2 223.3M373.8 223.3L376.2 219.7M375.1 223.2L377.5 226.8M375.1 226.8L377.5 223.2M376.3 220.6L378.7 224.2M376.3 224.2L378.7 220.6M377.6 225.1L380.0 228.7M377.6 228.7L380.0 225.1M378.8 221.2L381.2 224.8M378.8 224.8L381.2 221.2M380.1 225.5L382.5 229.1M380.1 229.1L382.5 225.5M381.3 224.2L383.7 227.8M381.3 227.8L383.7 224.2M382.6 216.8L385.0 220.4M382.6 220.4L385.0 216.8M383.8 221.7L386.2 225.3M383.8 225.3L386.2 221.7M385.1 225.2L387.5 228.8M385.1 228.8L387.5 225.2M386.4 224.0L388.8 227.6M386.4 227.6L388.8 224.0M387.6 222.9L390.0 226.5M387.6 226.5L390.0 222.9M388.9 220.4L391.3 224.0M388.9 224.0L391.3 220.4M390.1 225.2L392.5 228.8M390.1 228.8L392.5 225.2M391.4 228.7L393.8 232.3M391.4 232.3L393.8 228.7M392.6 224.6L395.0 228.2M392.6 228.2L395.0 224.6M393.9 223.7L396.3 227.3M393.9 227.3L396.3 223.7M395.1 223.4L397.5 227.0M395.1 227.0L397.5 223.4M396.4 220.0L398.8 223.6M396.4 223.6L398.8 220.0M397.6 222.7L400.0 226.3M397.6 226.3L400.0 222.7M398.9 222.1L401.3 225.7M398.9 225.7L401.3 222.1M400.1 223.9L402.5 227.5M400.1 227.5L402.5 223.9M401.4 219.4L403.8 223.0M401.4 223.0L403.8 219.4M402.6 215.8L405.0 219.4M402.6 219.4L405.0 215.8M403.9 217.3L406.3 220.9M403.9 220.9L406.3 217.3M405.2 217.2L407.6 220.8M405.2 220.8L407.6 217.2M406.4 215.8L408.8 219.4M406.4 219.4L408.8 215.8M407.7 212.2L410.1 215.8M407.7 215.8L410.1 212.2M408.9 215.4L411.3 219.0M408.9 219.0L411.3 215.4M410.2 211.8L412.6 215.4M410.2 215.4L412.6 211.8M411.4 207.2L413.8 210.8M411.4 210.8L413.8 207.2M412.7 202.7L415.1 206.3M412.7 206.3L415.1 202.7M413.9 197.1L416.3 200.7M413.9 200.7L416.3 197.1M415.2 188.6L417.6 192.2M415.2 192.2L417.6 188.6M416.4 181.7L418.8 185.3M416.4 185.3L418.8 181.7M417.7 173.3L420.1 176.9M417.7 176.9L420.1 173.3M418.9 165.0L421.3 168.6M418.9 168.6L421.3 165.0M420.2 175.9L422.6 179.5M420.2 179.5L422.6 175.9M421.4 182.6L423.8 186.2M421.4 186.2L423.8 182.6M422.7 184.7L425.1 188.3M422.7 188.3L425.1 184.7M423.9 189.5L426.3 193.1M423.9 193.1L426.3 189.5M425.2 190.9L427.6 194.5M425.2 194.5L427.6 190.9M426.5 192.8L428.9 196.4M426.5 196.4L428.9 192.8M427.7 198.3L430.1 201.9M427.7 201.9L430.1 198.3M429.0 198.3L431.4 201.9M429.0 201.9L431.4 198.3M430.2 201.7L432.6 205.3M430.2 205.3L432.6 201.7M431.5 198.6L433.9 202.2M431.5 202.2L433.9 198.6M432.7 196.3L435.1 199.9M432.7 199.9L435.1 196.3M434.0 195.6L436.4 199.2M434.0 199.2L436.4 195.6M435.2 197.4L437.6 201.0M435.2 201.0L437.6 197.4M436.5 193.6L438.9 197.2M436.5 197.2L438.9 193.6M437.7 191.9L440.1 195.5M437.7 195.5L440.1 191.9M439.0 188.9L441.4 192.5M439.0 192.5L441.4 188.9M440.2 181.9L442.6 185.5M440.2 185.5L442.6 181.9M441.5 181.9L443.9 185.5M441.5 185.5L443.9 181.9M442.7 173.5L445.1 177.1M442.7 177.1L445.1 173.5M444.0 173.0L446.4 176.6M444.0 176.6L446.4 173.0M445.2 171.1L447.6 174.7M445.2 174.7L447.6 171.1M446.5 172.7L448.9 176.3M446.5 176.3L448.9 172.7M447.8 173.2L450.2 176.8M447.8 176.8L450.2 173.2M449.0 171.1L451.4 174.7M449.0 174.7L451.4 171.1M450.3 169.8L452.7 173.4M450.3 173.4L452.7 169.8M451.5 169.9L453.9 173.5M451.5 173.5L453.9 169.9M452.8 168.5L455.2 172.1M452.8 172.1L455.2 168.5M454.0 170.0L456.4 173.6M454.0 173.6L456.4 170.0M455.3 172.9L457.7 176.5M455.3 176.5L457.7 172.9M456.5 168.1L458.9 171.7M456.5 171.7L458.9 168.1M457.8 168.3L460.2 171.9M457.8 171.9L460.2 168.3M459.0 168.8L461.4 172.4M459.0 172.4L461.4 168.8M460.3 165.9L462.7 169.5M460.3 169.5L462.7 165.9M461.5 158.4L463.9 162.0M461.5 162.0L463.9 158.4M462.8 170.2L465.2 173.8M462.8 173.8L465.2 170.2M464.0 175.7L466.4 179.3M464.0 179.3L466.4 175.7M465.3 178.2L467.7 181.8M465.3 181.8L467.7 178.2M466.5 179.4L468.9 183.0M466.5 183.0L468.9 179.4M467.8 188.1L470.2 191.7M467.8 191.7L470.2 188.1M469.1 188.7L471.5 192.3M469.1 192.3L471.5 188.7M470.3 195.7L472.7 199.3M470.3 199.3L472.7 195.7M471.6 199.5L474.0 203.1M471.6 203.1L474.0 199.5M472.8 198.6L475.2 202.2M472.8 202.2L475.2 198.6M474.1 203.5L476.5 207.1M474.1 207.1L476.5 203.5M475.3 208.0L477.7 211.6M475.3 211.6L477.7 208.0M476.6 208.9L479.0 212.5M476.6 212.5L479.0 208.9M477.8 210.4L480.2 214.0M477.8 214.0L480.2 210.4M479.1 213.7L481.5 217.3M479.1 217.3L481.5 213.7M480.3 217.7L482.7 221.3M480.3 221.3L482.7 217.7M481.6 214.8L484.0 218.4M481.6 218.4L484.0 214.8M482.8 218.3L485.2 221.9M482.8 221.9L485.2 218.3M484.1 223.8L486.5 227.4M484.1 227.4L486.5 223.8M485.3 219.5L487.7 223.1M485.3 223.1L487.7 219.5M486.6 219.8L489.0 223.4M486.6 223.4L489.0 219.8M487.9 221.6L490.3 225.2M487.9 225.2L490.3 221.6M489.1 222.4L491.5 226.0M489.1 226.0L491.5 222.4M490.4 222.2L492.8 225.8M490.4 225.8L492.8 222.2M491.6 223.0L494.0 226.6M491.6 226.6L494.0 223.0M492.9 228.1L495.3 231.7M492.9 231.7L495.3 228.1M494.1 232.7L496.5 236.3M494.1 236.3L496.5 232.7M495.4 225.5L497.8 229.1M495.4 229.1L497.8 225.5M496.6 227.3L499.0 230.9M496.6 230.9L499.0 227.3M497.9 230.1L500.3 233.7M497.9 233.7L500.3 230.1M499.1 230.4L501.5 234.0M499.1 234.0L501.5 230.4M500.4 223.3L502.8 226.9M500.4 226.9L502.8 223.3M501.6 217.4L504.0 221.0M501.6 221.0L504.0 217.4M502.9 221.6L505.3 225.2M502.9 225.2L505.3 221.6M504.1 218.7L506.5 222.3M504.1 222.3L506.5 218.7M505.4 221.8L507.8 225.4M505.4 225.4L507.8 221.8M506.6 219.6L509.0 223.2M506.6 223.2L509.0 219.6M507.9 221.2L510.3 224.8M507.9 224.8L510.3 221.2M509.2 229.7L511.6 233.3M509.2 233.3L511.6 229.7M510.4 230.8L512.8 234.4M510.4 234.4L512.8 230.8M511.7 230.6L514.1 234.2M511.7 234.2L514.1 230.6M512.9 227.0L515.3 230.6M512.9 230.6L515.3 227.0M514.2 224.0L516.6 227.6M514.2 227.6L516.6 224.0M515.4 223.1L517.8 226.7M515.4 226.7L517.8 223.1M516.7 220.1L519.1 223.7M516.7 223.7L519.1 220.1M517.9 219.1L520.3 222.7M517.9 222.7L520.3 219.1M519.2 221.0L521.6 224.6M519.2 224.6L521.6 221.0M520.4 219.9L522.8 223.5M520.4 223.5L522.8 219.9M521.7 225.9L524.1 229.5M521.7 229.5L524.1 225.9M522.9 221.9L525.3 225.5M522.9 225.5L525.3 221.9M524.2 225.1L526.6 228.7M524.2 228.7L526.6 225.1M525.4 222.8L527.8 226.4M525.4 226.4L527.8 222.8M526.7 225.9L529.1 229.5M526.7 229.5L529.1 225.9M527.9 228.1L530.3 231.7M527.9 231.7L530.3 228.1M529.2 227.2L531.6 230.8M529.2 230.8L531.6 227.2" stroke="#141414" stroke-width="0.8" fill="none"/>
<path d="M343.7 225.6L344.2 225.6L344.7 225.6L345.1 225.6L345.6 225.6L346.1 225.6L346.5 225.6L347.0 225.6L347.5 225.6L347.9 225.6L348.4 225.6L348.9 225.6L349.3 225.6L349.8 225.6L350.3 225.6L350.8 225.6L351.2 225.6L351.7 225.6L352.2 225.6L352.6 225.6L353.1 225.6L353.6 225.6L354.0 225.6L354.5 225.6L355.0 225.6L355.4 225.6L355.9 225.6L356.4 225.6L356.9 225.6L357.3 225.6L357.8 225.6L358.3 225.6L358.7 225.6L359.2 225.6L359.7 225.6L360.1 225.6L360.6 225.6L361.1 225.6L361.5 225.6L362.0 225.6L362.5 225.6L362.9 225.6L363.4 225.6L363.9 225.6L364.4 225.6L364.8 225.6L365.3 225.6L365.8 225.6L366.2 225.6L366.7 225.6L367.2 225.6L367.6 225.6L368.1 225.6L368.6 225.6L369.0 225.6L369.5 225.6L370.0 225.6L370.5 225.6L370.9 225.6L371.4 225.6L371.9 225.6L372.3 225.6L372.8 225.6L373.3 225.6L373.7 225.6L374.2 225.6L374.7 225.6L375.1 225.6L375.6 225.6L376.1 225.6L376.6 225.6L377.0 225.6L377.5 225.6L378.0 225.6L378.4 225.6L378.9 225.6L379.4 225.6L379.8 225.6L380.3 225.6L380.8 225.6L381.2 225.6L381.7 225.6L382.2 225.6L382.7 225.6L383.1 225.6L383.6 225.6L384.1 225.6L384.5 225.6L385.0 225.6L385.5 225.6L385.9 225.6L386.4 225.6L386.9 225.6L387.3 225.6L387.8 225.6L388.3 225.6L388.8 225.6L389.2 225.6L389.7 225.6L390.2 225.6L390.6 225.6L391.1 225.6L391.6 225.6L392.0 225.6L392.5 225.6L393.0 225.6L393.4 225.6L393.9 225.6L394.4 225.6L394.9 225.6L395.3 225.6L395.8 225.6L396.3 225.6L396.7 225.5L397.2 225.5L397.7 225.5L398.1 225.5L398.6 225.5L399.1 225.4L399.5 225.4L400.0 225.3L400.5 225.2L401.0 225.1L401.4 225.0L401.9 224.9L402.4 224.7L402.8 224.5L403.3 224.3L403.8 224.0L404.2 223.6L404.7 223.3L405.2 222.8L405.6 222.3L406.1 221.7L406.6 221.0L407.1 220.3L407.5 219.4L408.0 218.5L408.5 217.4L408.9 216.3L409.4 215.0L409.9 213.6L410.3 212.2L410.8 210.6L411.3 209.0L411.7 207.2L412.2 205.4L412.7 203.6L413.2 201.7L413.6 199.7L414.1 197.8L414.6 195.9L415.0 194.0L415.5 192.2L416.0 190.5L416.4 188.9L416.9 187.4L417.4 186.1L417.8 185.0L418.3 184.1L418.8 183.3L419.3 182.8L419.7 182.5L420.2 182.5L420.7 182.7L421.1 183.1L421.6 183.7L422.1 184.6L422.5 185.6L423.0 186.9L423.5 188.3L423.9 189.8L424.4 191.5L424.9 193.3L425.4 195.1L425.8 197.0L426.3 198.9L426.8 200.8L427.2 202.8L427.7 204.6L428.2 206.5L428.6 208.2L429.1 209.9L429.6 211.5L430.0 213.0L430.5 214.4L431.0 215.7L431.5 216.9L431.9 218.0L432.4 219.0L432.9 219.9L433.3 220.7L433.8 221.4L434.3 222.0L434.7 222.6L435.2 223.1L435.7 223.5L436.1 223.8L436.6 224.1L437.1 224.4L437.6 224.6L438.0 224.8L438.5 225.0L439.0 225.1L439.4 225.2L439.9 225.3L440.4 225.3L440.8 225.4L441.3 225.4L441.8 225.5L442.2 225.5L442.7 225.5L443.2 225.5L443.7 225.6L444.1 225.6L444.6 225.6L445.1 225.6L445.5 225.6L446.0 225.6L446.5 225.6L446.9 225.6L447.4 225.6L447.9 225.6L448.3 225.6L448.8 225.6L449.3 225.6L449.8 225.6L450.2 225.6L450.7 225.6L451.2 225.6L451.6 225.6L452.1 225.6L452.6 225.6L453.0 225.6L453.5 225.6L454.0 225.6L454.4 225.6L454.9 225.6L455.4 225.6L455.9 225.6L456.3 225.6L456.8 225.6L457.3 225.6L457.7 225.6L458.2 225.6L458.7 225.6L459.1 225.6L459.6 225.6L460.1 225.6L460.5 225.6L461.0 225.6L461.5 225.6L462.0 225.6L462.4 225.6L462.9 225.6L463.4 225.6L463.8 225.6L464.3 225.6L464.8 225.6L465.2 225.6L465.7 225.6L466.2 225.6L466.6 225.6L467.1 225.6L467.6 225.6L468.1 225.6L468.5 225.6L469.0 225.6L469.5 225.6L469.9 225.6L470.4 225.6L470.9 225.6L471.3 225.6L471.8 225.6L472.3 225.6L472.7 225.6L473.2 225.6L473.7 225.6L474.2 225.6L474.6 225.6L475.1 225.6L475.6 225.6L476.0 225.6L476.5 225.6L477.0 225.6L477.4 225.6L477.9 225.6L478.4 225.6L478.8 225.6L479.3 225.6L479.8 225.6L480.3 225.6L480.7 225.6L481.2 225.6L481.7 225.6L482.1 225.6L482.6 225.6L483.1 225.6L483.5 225.6L484.0 225.6L484.5 225.6L484.9 225.6L485.4 225.6L485.9 225.6L486.4 225.6L486.8 225.6L487.3 225.6L487.8 225.6L488.2 225.6L488.7 225.6L489.2 225.6L489.6 225.6L490.1 225.6L490.6 225.6L491.0 225.6L491.5 225.6L492.0 225.6L492.5 225.6L492.9 225.6L493.4 225.6L493.9 225.6L494.3 225.6L494.8 225.6L495.3 225.6L495.7 225.6L496.2 225.6L496.7 225.6L497.1 225.6L497.6 225.6L498.1 225.6L498.6 225.6L499.0 225.6L499.5 225.6L500.0 225.6L500.4 225.6L500.9 225.6L501.4 225.6L501.8 225.6L502.3 225.6L502.8 225.6L503.2 225.6L503.7 225.6L504.2 225.6L504.7 225.6L505.1 225.6L505.6 225.6L506.1 225.6L506.5 225.6L507.0 225.6L507.5 225.6L507.9 225.6L508.4 225.6L508.9 225.6L509.3 225.6L509.8 225.6L510.3 225.6L510.8 225.6L511.2 225.6L511.7 225.6L512.2 225.6L512.6 225.6L513.1 225.6L513.6 225.6L514.0 225.6L514.5 225.6L515.0 225.6L515.4 225.6L515.9 225.6L516.4 225.6L516.9 225.6L517.3 225.6L517.8 225.6L518.3 225.6L518.7 225.6L519.2 225.6L519.7 225.6L520.1 225.6L520.6 225.6L521.1 225.6L521.5 225.6L522.0 225.6L522.5 225.6L523.0 225.6L523.4 225.6L523.9 225.6L524.4 225.6L524.8 225.6L525.3 225.6L525.8 225.6L526.2 225.6L526.7 225.6L527.2 225.6L527.6 225.6L528.1 225.6L528.6 225.6L529.1 225.6L529.5 225.6L530.0 225.6L530.5 225.6L530.9 225.6" stroke="#0a0a0a" stroke-width="1.4" fill="none" />
<path d="M343.7 225.6L344.2 225.6L344.7 225.6L345.1 225.6L345.6 225.6L346.1 225.6L346.5 225.6L347.0 225.6L347.5 225.6L347.9 225.6L348.4 225.6L348.9 225.6L349.3 225.6L349.8 225.6L350.3 225.6L350.8 225.6L351.2 225.6L351.7 225.6L352.2 225.6L352.6 225.6L353.1 225.6L353.6 225.6L354.0 225.6L354.5 225.6L355.0 225.6L355.4 225.6L355.9 225.6L356.4 225.6L356.9 225.6L357.3 225.6L357.8 225.6L358.3 225.6L358.7 225.6L359.2 225.6L359.7 225.6L360.1 225.6L360.6 225.6L361.1 225.6L361.5 225.6L362.0 225.6L362.5 225.6L362.9 225.6L363.4 225.6L363.9 225.6L364.4 225.6L364.8 225.6L365.3 225.6L365.8 225.6L366.2 225.6L366.7 225.6L367.2 225.6L367.6 225.6L368.1 225.6L368.6 225.6L369.0 225.6L369.5 225.6L370.0 225.6L370.5 225.6L370.9 225.6L371.4 225.6L371.9 225.6L372.3 225.6L372.8 225.6L373.3 225.6L373.7 225.6L374.2 225.6L374.7 225.6L375.1 225.6L375.6 225.6L376.1 225.6L376.6 225.6L377.0 225.6L377.5 225.6L378.0 225.6L378.4 225.6L378.9 225.6L379.4 225.6L379.8 225.6L380.3 225.6L380.8 225.6L381.2 225.6L381.7 225.6L382.2 225.6L382.7 225.6L383.1 225.6L383.6 225.6L384.1 225.6L384.5 225.6L385.0 225.6L385.5 225.6L385.9 225.6L386.4 225.6L386.9 225.6L387.3 225.6L387.8 225.6L388.3 225.6L388.8 225.6L389.2 225.6L389.7 225.6L390.2 225.6L390.6 225.6L391.1 225.6L391.6 225.6L392.0 225.6L392.5 225.6L393.0 225.6L393.4 225.6L393.9 225.6L394.4 225.6L394.9 225.6L395.3 225.6L395.8 225.6L396.3 225.6L396.7 225.6L397.2 225.6L397.7 225.6L398.1 225.6L398.6 225.6L399.1 225.6L399.5 225.6L400.0 225.6L400.5 225.6L401.0 225.6L401.4 225.5L401.9 225.5L402.4 225.5L402.8 225.5L403.3 225.5L403.8 225.5L404.2 225.5L404.7 225.5L405.2 225.5L405.6 225.4L406.1 225.4L406.6 225.4L407.1 225.4L407.5 225.4L408.0 225.3L408.5 225.3L408.9 225.3L409.4 225.2L409.9 225.2L410.3 225.2L410.8 225.1L411.3 225.1L411.7 225.0L412.2 224.9L412.7 224.9L413.2 224.8L413.6 224.7L414.1 224.6L414.6 224.5L415.0 224.4L415.5 224.3L416.0 224.2L416.4 224.1L416.9 223.9L417.4 223.8L417.8 223.6L418.3 223.4L418.8 223.2L419.3 223.0L419.7 222.8L420.2 222.6L420.7 222.3L421.1 222.1L421.6 221.8L422.1 221.5L422.5 221.2L423.0 220.8L423.5 220.5L423.9 220.1L424.4 219.7L424.9 219.2L425.4 218.8L425.8 218.3L426.3 217.8L426.8 217.3L427.2 216.7L427.7 216.1L428.2 215.5L428.6 214.9L429.1 214.2L429.6 213.6L430.0 212.8L430.5 212.1L431.0 211.3L431.5 210.5L431.9 209.7L432.4 208.8L432.9 207.9L433.3 207.0L433.8 206.1L434.3 205.1L434.7 204.1L435.2 203.1L435.7 202.1L436.1 201.0L436.6 200.0L437.1 198.9L437.6 197.8L438.0 196.6L438.5 195.5L439.0 194.4L439.4 193.2L439.9 192.0L440.4 190.9L440.8 189.7L441.3 188.5L441.8 187.4L442.2 186.2L442.7 185.1L443.2 183.9L443.7 182.8L444.1 181.7L444.6 180.6L445.1 179.6L445.5 178.5L446.0 177.5L446.5 176.5L446.9 175.6L447.4 174.7L447.9 173.8L448.3 173.0L448.8 172.2L449.3 171.5L449.8 170.8L450.2 170.1L450.7 169.6L451.2 169.0L451.6 168.6L452.1 168.2L452.6 167.8L453.0 167.5L453.5 167.3L454.0 167.1L454.4 167.0L454.9 167.0L455.4 167.0L455.9 167.1L456.3 167.2L456.8 167.4L457.3 167.7L457.7 168.0L458.2 168.4L458.7 168.9L459.1 169.4L459.6 169.9L460.1 170.6L460.5 171.2L461.0 171.9L461.5 172.7L462.0 173.5L462.4 174.4L462.9 175.3L463.4 176.2L463.8 177.2L464.3 178.2L464.8 179.2L465.2 180.2L465.7 181.3L466.2 182.4L466.6 183.5L467.1 184.7L467.6 185.8L468.1 187.0L468.5 188.1L469.0 189.3L469.5 190.5L469.9 191.6L470.4 192.8L470.9 194.0L471.3 195.1L471.8 196.2L472.3 197.4L472.7 198.5L473.2 199.6L473.7 200.7L474.2 201.7L474.6 202.8L475.1 203.8L475.6 204.8L476.0 205.8L476.5 206.7L477.0 207.6L477.4 208.5L477.9 209.4L478.4 210.2L478.8 211.0L479.3 211.8L479.8 212.6L480.3 213.3L480.7 214.0L481.2 214.7L481.7 215.3L482.1 215.9L482.6 216.5L483.1 217.1L483.5 217.6L484.0 218.1L484.5 218.6L484.9 219.1L485.4 219.5L485.9 219.9L486.4 220.3L486.8 220.7L487.3 221.0L487.8 221.4L488.2 221.7L488.7 222.0L489.2 222.2L489.6 222.5L490.1 222.7L490.6 223.0L491.0 223.2L491.5 223.4L492.0 223.5L492.5 223.7L492.9 223.9L493.4 224.0L493.9 224.1L494.3 224.3L494.8 224.4L495.3 224.5L495.7 224.6L496.2 224.7L496.7 224.8L497.1 224.8L497.6 224.9L498.1 225.0L498.6 225.0L499.0 225.1L499.5 225.1L500.0 225.2L500.4 225.2L500.9 225.3L501.4 225.3L501.8 225.3L502.3 225.4L502.8 225.4L503.2 225.4L503.7 225.4L504.2 225.4L504.7 225.5L505.1 225.5L505.6 225.5L506.1 225.5L506.5 225.5L507.0 225.5L507.5 225.5L507.9 225.5L508.4 225.5L508.9 225.6L509.3 225.6L509.8 225.6L510.3 225.6L510.8 225.6L511.2 225.6L511.7 225.6L512.2 225.6L512.6 225.6L513.1 225.6L513.6 225.6L514.0 225.6L514.5 225.6L515.0 225.6L515.4 225.6L515.9 225.6L516.4 225.6L516.9 225.6L517.3 225.6L517.8 225.6L518.3 225.6L518.7 225.6L519.2 225.6L519.7 225.6L520.1 225.6L520.6 225.6L521.1 225.6L521.5 225.6L522.0 225.6L522.5 225.6L523.0 225.6L523.4 225.6L523.9 225.6L524.4 225.6L524.8 225.6L525.3 225.6L525.8 225.6L526.2 225.6L526.7 225.6L527.2 225.6L527.6 225.6L528.1 225.6L528.6 225.6L529.1 225.6L529.5 225.6L530.0 225.6L530.5 225.6L530.9 225.6" stroke="#0a0a0a" stroke-width="1.4" fill="none" />
<path d="M343.7 263.8L345.0 262.3L346.2 263.4L347.5 258.8L348.7 264.2L350.0 262.4L351.2 261.1L352.5 263.7L353.7 263.7L355.0 262.3L356.2 266.9L357.5 265.0L358.7 262.2L360.0 260.6L361.2 261.5L362.5 266.0L363.7 262.3L365.0 258.8L366.3 259.4L367.5 261.2L368.8 263.5L370.0 259.2L371.3 262.6L372.5 264.3L373.8 263.2L375.0 256.9L376.3 260.4L377.5 257.8L378.8 262.3L380.0 258.4L381.3 262.7L382.5 261.4L383.8 254.0L385.0 258.9L386.3 262.4L387.6 261.2L388.8 260.1L390.1 257.6L391.3 262.4L392.6 265.9L393.8 261.8L395.1 261.0L396.3 260.7L397.6 257.3L398.8 260.1L400.1 259.6L401.3 261.8L402.6 257.7L403.8 254.8L405.1 257.3L406.4 258.8L407.6 259.6L408.9 258.9L410.1 265.7L411.4 266.5L412.6 266.9L413.9 267.7L415.1 267.5L416.4 263.8L417.6 260.9L418.9 255.3L420.1 248.3L421.4 259.0L422.6 264.1L423.9 263.4L425.1 264.7L426.4 262.3L427.7 260.5L428.9 263.0L430.2 260.7L431.4 262.7L432.7 259.2L433.9 257.3L435.2 257.8L436.4 261.4L437.7 259.8L438.9 260.8L440.2 260.6L441.4 256.7L442.7 259.6L443.9 254.2L445.2 256.6L446.4 257.4L447.7 261.4L449.0 264.0L450.2 263.8L451.5 263.8L452.7 264.9L454.0 264.2L455.2 265.8L456.5 268.4L457.7 262.8L459.0 261.9L460.2 260.8L461.5 256.0L462.7 246.2L464.0 255.5L465.2 258.2L466.5 257.8L467.7 256.0L469.0 261.6L470.3 259.1L471.5 263.0L472.8 263.8L474.0 260.0L475.3 262.2L476.5 264.1L477.8 262.6L479.0 261.9L480.3 263.1L481.5 265.4L482.8 260.9L484.0 263.0L485.3 267.2L486.5 261.8L487.8 261.2L489.1 262.2L490.3 262.3L491.6 261.7L492.8 261.9L494.1 266.7L495.3 271.0L496.6 263.5L497.8 265.1L499.1 267.8L500.3 267.9L501.6 260.8L502.8 254.8L504.1 258.9L505.3 256.0L506.6 259.1L507.8 256.9L509.1 258.5L510.4 267.0L511.6 268.0L512.9 267.8L514.1 264.2L515.4 261.2L516.6 260.3L517.9 257.4L519.1 256.3L520.4 258.2L521.6 257.1L522.9 263.1L524.1 259.1L525.4 262.3L526.6 260.0L527.9 263.1L529.1 265.3L530.4 264.4" stroke="#444" stroke-width="0.55" fill="none" stroke-dasharray="1.2 1"/>
<path d="M343.0 263.8h1.4M344.2 262.3h1.4M345.5 263.4h1.4M346.7 258.8h1.4M348.0 264.2h1.4M349.2 262.4h1.4M350.5 261.1h1.4M351.8 263.7h1.4M353.0 263.7h1.4M354.3 262.3h1.4M355.5 266.9h1.4M356.8 265.0h1.4M358.0 262.2h1.4M359.3 260.6h1.4M360.5 261.5h1.4M361.8 266.0h1.4M363.0 262.3h1.4M364.3 258.8h1.4M365.5 259.4h1.4M366.8 261.2h1.4M368.0 263.5h1.4M369.3 259.2h1.4M370.5 262.6h1.4M371.8 264.3h1.4M373.1 263.2h1.4M374.3 256.9h1.4M375.6 260.4h1.4M376.8 257.8h1.4M378.1 262.3h1.4M379.3 258.4h1.4M380.6 262.7h1.4M381.8 261.4h1.4M383.1 254.0h1.4M384.3 258.9h1.4M385.6 262.4h1.4M386.8 261.2h1.4M388.1 260.1h1.4M389.3 257.6h1.4M390.6 262.4h1.4M391.8 265.9h1.4M393.1 261.8h1.4M394.4 261.0h1.4M395.6 260.7h1.4M396.9 257.3h1.4M398.1 260.1h1.4M399.4 259.6h1.4M400.6 261.8h1.4M401.9 257.7h1.4M403.1 254.8h1.4M404.4 257.3h1.4M405.6 258.8h1.4M406.9 259.6h1.4M408.1 258.9h1.4M409.4 265.7h1.4M410.6 266.5h1.4M411.9 266.9h1.4M413.1 267.7h1.4M414.4 267.5h1.4M415.7 263.8h1.4M416.9 260.9h1.4M418.2 255.3h1.4M419.4 248.3h1.4M420.7 259.0h1.4M421.9 264.1h1.4M423.2 263.4h1.4M424.4 264.7h1.4M425.7 262.3h1.4M426.9 260.5h1.4M428.2 263.0h1.4M429.4 260.7h1.4M430.7 262.7h1.4M431.9 259.2h1.4M433.2 257.3h1.4M434.5 257.8h1.4M435.7 261.4h1.4M437.0 259.8h1.4M438.2 260.8h1.4M439.5 260.6h1.4M440.7 256.7h1.4M442.0 259.6h1.4M443.2 254.2h1.4M444.5 256.6h1.4M445.7 257.4h1.4M447.0 261.4h1.4M448.2 264.0h1.4M449.5 263.8h1.4M450.7 263.8h1.4M452.0 264.9h1.4M453.2 264.2h1.4M454.5 265.8h1.4M455.8 268.4h1.4M457.0 262.8h1.4M458.3 261.9h1.4M459.5 260.8h1.4M460.8 256.0h1.4M462.0 246.2h1.4M463.3 255.5h1.4M464.5 258.2h1.4M465.8 257.8h1.4M467.0 256.0h1.4M468.3 261.6h1.4M469.5 259.1h1.4M470.8 263.0h1.4M472.0 263.8h1.4M473.3 260.0h1.4M474.5 262.2h1.4M475.8 264.1h1.4M477.1 262.6h1.4M478.3 261.9h1.4M479.6 263.1h1.4M480.8 265.4h1.4M482.1 260.9h1.4M483.3 263.0h1.4M484.6 267.2h1.4M485.8 261.8h1.4M487.1 261.2h1.4M488.3 262.2h1.4M489.6 262.3h1.4M490.8 261.7h1.4M492.1 261.9h1.4M493.3 266.7h1.4M494.6 271.0h1.4M495.8 263.5h1.4M497.1 265.1h1.4M498.4 267.8h1.4M499.6 267.9h1.4M500.9 260.8h1.4M502.1 254.8h1.4M503.4 258.9h1.4M504.6 256.0h1.4M505.9 259.1h1.4M507.1 256.9h1.4M508.4 258.5h1.4M509.6 267.0h1.4M510.9 268.0h1.4M512.1 267.8h1.4M513.4 264.2h1.4M514.6 261.2h1.4M515.9 260.3h1.4M517.1 257.4h1.4M518.4 256.3h1.4M519.7 258.2h1.4M520.9 257.1h1.4M522.2 263.1h1.4M523.4 259.1h1.4M524.7 262.3h1.4M525.9 260.0h1.4M527.2 263.1h1.4M528.4 265.3h1.4M529.7 264.4h1.4" stroke="#111" stroke-width="1.44" fill="none"/>
</svg>
</body></html>
